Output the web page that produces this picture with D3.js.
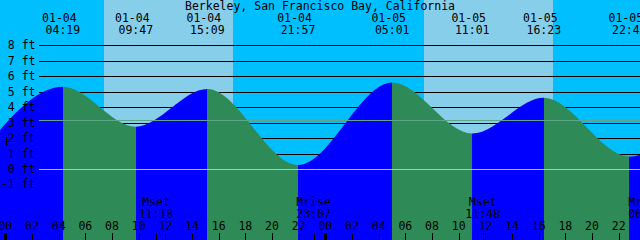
<!DOCTYPE html>
<html>
<head>
<meta charset="utf-8">
<script src="https://cdn.jsdelivr.net/npm/d3@7"></script>
<style>
  body { margin: 0; overflow: hidden; }
  text { font-family: "DejaVu Sans Mono", monospace; font-size: 11.5px; fill: #000; }
</style>
</head>
<body>
<svg id="chart" width="640" height="240"></svg>
<script>
const title = "Berkeley, San Francisco Bay, California";

// tide extremes (first and last lie outside the picture)
const tideTimes = ["2024-01-03 21:42", "2024-01-04 04:19", "2024-01-04 09:47", "2024-01-04 15:09",
  "2024-01-04 21:57", "2024-01-05 05:01", "2024-01-05 11:01", "2024-01-05 16:23",
  "2024-01-05 22:48", "2024-01-06 05:30"];
const tideHeights = [0.5, 5.32, 2.74, 5.17, 0.26, 5.6, 2.3, 4.6, 0.8, 5.7];

const sunrises = ["2024-01-04 07:24", "2024-01-05 07:24"];
const sunsets = ["2024-01-04 17:04", "2024-01-05 17:05"];

const moonNames = ["Mset", "Mrise", "Mset", "Mrise"];
const moonTimes = ["2024-01-04 11:18", "2024-01-04 23:07", "2024-01-05 11:48", "2024-01-06 00:01"];

const footLevels = [8, 7, 6, 5, 4, 3, 2, 1, 0, -1];
const meanSeaLevel = 3.17;
const markLevel = 1.8;

const width = 640, height = 240;
const parse = d3.timeParse("%Y-%m-%d %H:%M");
const start = parse("2024-01-03 23:36"), end = parse("2024-01-05 23:36");

const x = d3.scaleTime().domain([start, end]).range([0, width]);
const y = d3.scaleLinear().domain([0, 8]).range([169, 45.3]);

const svg = d3.select("#chart");

// day / night background
const edges = [start];
sunrises.forEach(function (d, i) { edges.push(parse(d), parse(sunsets[i])); });
edges.push(end);
svg.append("g").selectAll("rect")
  .data(d3.pairs(edges))
  .join("rect")
    .attr("x", function (d) { return x(d[0]) })
    .attr("width", function (d) { return x(d[1]) - x(d[0]) })
    .attr("y", 0)
    .attr("height", height)
    .attr("fill", function (d, i) { return i % 2 ? "#87CEEB" : "#00BFFF" })
    .attr("shape-rendering", "crispEdges");

// foot lines
svg.append("g").selectAll("line")
  .data(footLevels)
  .join("line")
    .attr("x1", 39).attr("x2", width)
    .attr("y1", function (d) { return Math.round(y(d)) + 0.5 })
    .attr("y2", function (d) { return Math.round(y(d)) + 0.5 })
    .attr("stroke", "#000");

// water
const tides = tideTimes.map(function (t, i) { return {t: parse(t), h: tideHeights[i]} });
const area = d3.area()
    .x(function (d) { return x(d.t) })
    .y0(height)
    .y1(function (d) { return y(d.h) })
    .curve(d3.curveMonotoneX);

svg.append("clipPath").attr("id", "water")
  .append("path").attr("d", area(tides));

svg.append("g").attr("clip-path", "url(#water)")
  .selectAll("rect")
  .data(d3.pairs(tides))
  .join("rect")
    .attr("x", function (d) { return x(d[0].t) })
    .attr("width", function (d) { return x(d[1].t) - x(d[0].t) })
    .attr("y", 0)
    .attr("height", height)
    .attr("fill", function (d) { return d[1].h > d[0].h ? "#0000FF" : "#2E8B57" })
    .attr("shape-rendering", "crispEdges");

// mean sea level and datum
svg.append("line")
    .attr("x1", 39).attr("x2", width)
    .attr("y1", Math.round(y(meanSeaLevel)) + 0.5).attr("y2", Math.round(y(meanSeaLevel)) + 0.5)
    .attr("stroke", "#5fa58a");
svg.append("line")
    .attr("x1", 39).attr("x2", width)
    .attr("y1", Math.round(y(0)) + 0.5).attr("y2", Math.round(y(0)) + 0.5)
    .attr("stroke", "#87CEEB");

// foot labels
svg.append("g").selectAll("text")
  .data(footLevels)
  .join("text")
    .attr("x", 35.5)
    .attr("y", function (d) { return y(d) + 4 })
    .attr("text-anchor", "end")
    .text(function (d) { return (d < 0 ? "-" + (-d) : d) + " ft" });

// mark
const mx = 6, my = Math.round(y(markLevel)) + 0.5;
svg.append("path")
    .attr("d", "M" + (mx - 4) + "," + my + "H" + (mx + 4) + "M" + (mx + 0.5) + "," + (my - 4.5) + "V" + (my + 4.5))
    .attr("stroke", "#000");

// title
svg.append("text")
    .attr("x", width / 2).attr("y", 10)
    .attr("text-anchor", "middle")
    .text(title);

// tide event labels
const fmtDate = d3.timeFormat("%m-%d"), fmtTime = d3.timeFormat("%H:%M");
const shown = tides.filter(function (d) { return d.t >= start && d.t <= end });
const ev = svg.append("g").selectAll("g")
  .data(shown)
  .join("g")
    .attr("transform", function (d) { return "translate(" + x(d.t) + ",0)" });
ev.append("text").attr("x", -3.5).attr("y", 22).attr("text-anchor", "middle")
    .text(function (d) { return fmtDate(d.t) });
ev.append("text").attr("y", 34).attr("text-anchor", "middle")
    .text(function (d) { return fmtTime(d.t) });

// moon labels
const moons = moonTimes.map(function (t, i) { return {t: parse(t), name: moonNames[i]} });
const mg = svg.append("g").selectAll("g")
  .data(moons)
  .join("g")
    .attr("transform", function (d) { return "translate(" + x(d.t) + ",0)" });
mg.append("text").attr("y", 206).attr("text-anchor", "middle")
    .text(function (d) { return d.name });
mg.append("text").attr("y", 218).attr("text-anchor", "middle")
    .text(function (d) { return fmtTime(d.t) });
mg.append("line")
    .attr("x1", function (d) { return Math.round(x(d.t)) - x(d.t) + 0.5 })
    .attr("x2", function (d) { return Math.round(x(d.t)) - x(d.t) + 0.5 })
    .attr("y1", 233).attr("y2", height)
    .attr("stroke", "#000");

// hour axis
const hours = d3.timeHour.every(2).range(start, end);
const fmtHour = d3.timeFormat("%H");
svg.append("g").selectAll("text")
  .data(hours)
  .join("text")
    .attr("x", function (d) { return x(d) })
    .attr("y", 230)
    .attr("text-anchor", "middle")
    .text(fmtHour);
svg.append("g").selectAll("rect")
  .data(hours)
  .join("rect")
    .attr("x", function (d) { return d.getHours() === 0 ? Math.round(x(d)) - 1 : Math.round(x(d)) })
    .attr("width", function (d) { return d.getHours() === 0 ? 3 : 1 })
    .attr("y", 233)
    .attr("height", height - 233)
    .attr("fill", "#000")
    .attr("shape-rendering", "crispEdges");
</script>
</body>
</html>
